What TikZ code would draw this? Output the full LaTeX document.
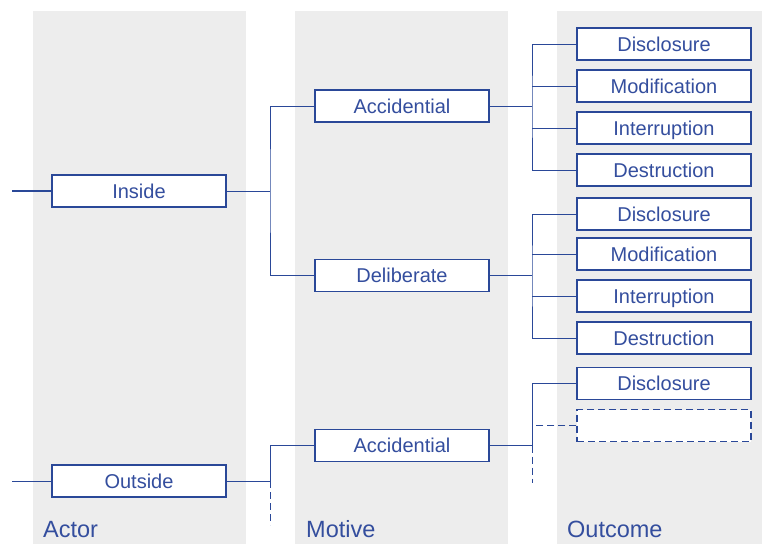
\documentclass[tikz,border=0pt]{standalone}
\usepackage{fontspec}
\setmainfont{Liberation Sans}
\definecolor{bblue}{RGB}{42,72,152}
\definecolor{tblue}{RGB}{52,78,158}
\definecolor{panel}{RGB}{237,237,237}
\begin{document}
\begin{tikzpicture}[x=1pt,y=-1pt,
  box/.style={draw=bblue,line width=1.3pt,fill=white,minimum width=174pt,minimum height=32pt,
    inner sep=0pt,text height=14.3pt,text depth=0pt,text=tblue,font=\fontsize{20}{24}\selectfont},
  conn/.style={draw=bblue,line width=1pt},
  dsh/.style={dash pattern=on 7pt off 4pt},
  lab/.style={anchor=base west,inner sep=0pt,text=tblue,font=\fontsize{23.5}{28}\selectfont}]
\useasboundingbox (0,0) rectangle (762,544);
% panels
\fill[panel] (33,11) rectangle (246,544);
\fill[panel] (295,11) rectangle (508,544);
\fill[panel] (557,11) rectangle (762,544);
\node[lab] (lactor) at (43,537) {Actor};
\node[lab] (lmotive) at (306,537) {Motive};
\node[lab] (loutcome) at (567,537) {Outcome};
% actor
\node[box] (inside) at (139,191) {Inside};
\node[box] (outside) at (139,481) {Outside};
% motive
\node[box] (a1) at (402,106) {Accidential};
\node[box] (d1) at (402,275.5) {Deliberate};
\node[box] (a2) at (402,445.5) {Accidential};
% outcome
\node[box] (o1) at (664,44) {Disclosure};
\node[box] (o2) at (664,86) {Modification};
\node[box] (o3) at (664,128) {Interruption};
\node[box] (o4) at (664,170) {Destruction};
\node[box] (o5) at (664,214) {Disclosure};
\node[box] (o6) at (664,254) {Modification};
\node[box] (o7) at (664,296) {Interruption};
\node[box] (o8) at (664,338) {Destruction};
\node[box] (o9) at (664,383.5) {Disclosure};
\node[box,dsh] (o10) at (664,425.5) {};
% left connectors
\coordinate (inl) at (12,191);
\coordinate (outl) at (12,481);
\draw[conn,line width=2pt] (inl) -- (inside.west);
\draw[conn] (outl) -- (outside.west);
% actor -> motive
\coordinate (b1) at (270,191);
\draw[conn] (inside.east) -- (b1);
\draw[conn] (a1.west) -| (b1) |- (d1.west);
\coordinate (b5) at (270,481);
\coordinate (e2) at (270,525);
\draw[conn] (outside.east) -- (b5);
\draw[conn] (a2.west) -| (b5);
\draw[conn,dsh] (b5) -- (e2);
% motive -> outcome
\coordinate (b2) at (532,106);
\draw[conn] (a1.east) -- (b2);
\draw[conn] (o1.west) -| (b2) |- (o4.west);
\draw[conn] (o2.west) -- (o2.west -| b2);
\draw[conn] (o3.west) -- (o3.west -| b2);
\coordinate (b3) at (532,275.5);
\draw[conn] (d1.east) -- (b3);
\draw[conn] (o5.west) -| (b3) |- (o8.west);
\draw[conn] (o6.west) -- (o6.west -| b3);
\draw[conn] (o7.west) -- (o7.west -| b3);
\coordinate (b4) at (532,445.5);
\coordinate (e1) at (532,483);
\draw[conn] (a2.east) -- (b4);
\draw[conn] (o9.west) -| (b4);
\draw[conn,dsh] (o10.west) -- (o10.west -| b4);
\draw[conn,dsh] (b4) -- (e1);
\end{tikzpicture}
\end{document}
